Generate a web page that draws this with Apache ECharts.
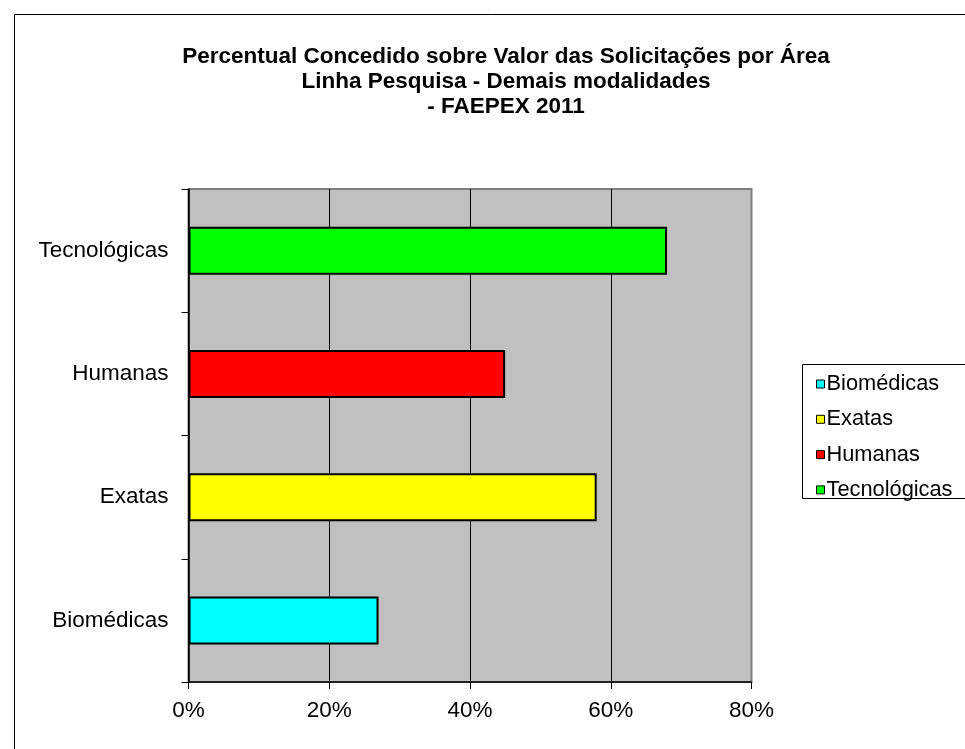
<!DOCTYPE html>
<html>
<head>
<meta charset="utf-8">
<script src="https://cdn.jsdelivr.net/npm/echarts@6/dist/echarts.min.js"></script>
<style>
html,body{margin:0;padding:0;background:#fff;}
#chart{width:965px;height:749px;}
</style>
</head>
<body>
<div id="chart"></div>
<script>
const titleLines = ['Percentual Concedido sobre Valor das Solicitações por Área', 'Linha Pesquisa - Demais modalidades', '- FAEPEX 2011'];
const categories = ['Biomédicas', 'Exatas', 'Humanas', 'Tecnológicas'];
const values = [27, 58, 45, 68];
const xMin = 0, xMax = 80, xStep = 20;
const colors = ['#00FFFF', '#FFFF00', '#FF0000', '#00FF00'];

const FONT = '"Liberation Sans", Arial, sans-serif';
const chart = echarts.init(document.getElementById('chart'));

const series = categories.map((name, i) => ({
  name: name,
  type: 'bar',
  barWidth: 48,
  barGap: '-100%',
  data: categories.map((c, j) => (j === i ? values[i] : '-')),
  itemStyle: { color: colors[i], borderColor: '#000', borderWidth: 2 },
  emphasis: { disabled: true }
}));

chart.setOption({
  animation: false,
  textStyle: { fontFamily: FONT },
  title: {
    text: titleLines.join('\n'),
    left: 501,
    textAlign: 'center',
    top: 39,
    textStyle: { fontFamily: FONT, fontSize: 22.5, fontWeight: 'bold', color: '#000', lineHeight: 25 }
  },
  graphic: [
    { type: 'rect', z: 0, silent: true, shape: { x: 14.5, y: 14.5, width: 1000, height: 800 },
      style: { fill: 'none', stroke: '#000', lineWidth: 1 } },
    { type: 'rect', z: 1, silent: true, shape: { x: 802.5, y: 364.5, width: 170, height: 134 },
      style: { fill: '#fff', stroke: '#000', lineWidth: 1 } }
  ],
  legend: {
    orient: 'vertical',
    left: 811,
    top: 368,
    z: 10,
    padding: 5,
    itemWidth: 8,
    itemHeight: 8,
    itemGap: 13.3,
    icon: 'rect',
    selectedMode: false,
    itemStyle: { borderColor: '#000', borderWidth: 1 },
    textStyle: { fontFamily: FONT, fontSize: 21.8, color: '#000', lineHeight: 20, padding: [0, 0, 0, -3] },
    data: categories
  },
  grid: {
    left: 188.5, right: 213.5, top: 189, bottom: 67,
    show: true, backgroundColor: '#C0C0C0', borderColor: '#808080', borderWidth: 2
  },
  xAxis: {
    type: 'value',
    min: xMin, max: xMax, interval: xStep,
    axisLine: { show: true, lineStyle: { color: '#000', width: 1.5 } },
    axisTick: { show: true, length: 7, lineStyle: { color: '#000' } },
    axisLabel: { formatter: '{value}%', fontSize: 22.5, color: '#000', margin: 17, fontFamily: FONT },
    splitLine: { show: true, lineStyle: { color: ['#000', '#000', '#000', '#000', '#808080'], width: 1 } }
  },
  yAxis: {
    type: 'category',
    data: categories,
    axisLine: { show: true, lineStyle: { color: '#000', width: 1.5 } },
    axisTick: { show: true, length: 7, alignWithLabel: false, lineStyle: { color: '#000' } },
    axisLabel: { fontSize: 22.5, color: '#000', margin: 20, fontFamily: FONT },
    splitLine: { show: false }
  },
  series: series
});
</script>
</body>
</html>
